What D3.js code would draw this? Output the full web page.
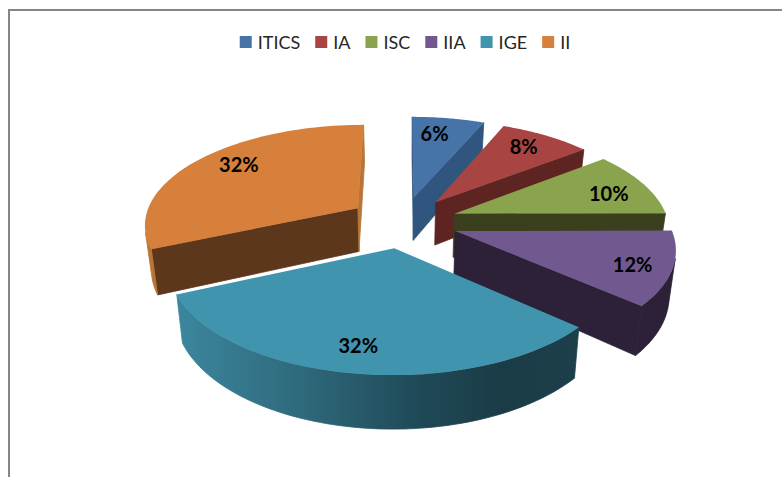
<!DOCTYPE html>
<html>
<head>
<meta charset="utf-8">
<script src="https://cdn.jsdelivr.net/npm/d3@7"></script>
<style>
  html, body { margin: 0; padding: 0; background: #fff; }
  svg { display: block; }
  text { font-family: Lato, "Open Sans", sans-serif; }
</style>
</head>
<body>
<svg id="chart" width="782" height="477"></svg>
<script>
  // they round to the printed labels
  const categories = ["ITICS", "IA", "ISC", "IIA", "IGE", "II"];
  const shares = [6.4, 8.1, 10.4, 11.6, 31.9, 31.6];

  const topColors = ["#4673a8", "#a84543", "#89a44c", "#71588e", "#4094ae", "#d6803c"];
  const sideColors = ["#30567f", "#5d2422", "#3a3f1d", "#2c2137", "#1c3f4b", "#5c371b"];
  const endColors = ["#30567f", "#5d2422", "#3a3f1d", "#2c2137", "#1c3f4b", "#b87535"];
  const labelFrac = [0.72, 0.74, 0.78, 0.86, 0.75, 0.68];
  const labelDx = [-5, 4, 6, -8, -6, -8];
  const labelDy = [-5, -5, 4, 2, 8, -10];

  const width = 782, height = 477;
  const svg = d3.select("#chart");

  // camera settings, fitted by eye against the picture
  const cx = 403, cy = 222;
  const radius = 214, explode = 55;
  const tilt = 0.465, persp = 1450, depth = 44, shrink = 0.025;

  const color = d3.scaleOrdinal().domain(categories).range(topColors);

  const pie = d3.pie().sort(null).value(function(d, i) { return shares[i]; });
  const arcs = pie(categories);

  function project(X, Y, bottom) {
    const s = 1 / (1 + Y / persp);
    let x = cx + X * s;
    let y = cy - tilt * Y * s;
    if (bottom) {
      x = cx + (x - cx) * (1 - shrink);
      y += depth * s;
    }
    return [x, y];
  }

  function slicePoint(d, frac, angle, bottom) {
    const mid = (d.startAngle + d.endAngle) / 2;
    const X = explode * Math.sin(mid) + radius * frac * Math.sin(angle);
    const Y = explode * Math.cos(mid) + radius * frac * Math.cos(angle);
    return project(X, Y, bottom);
  }

  const line = d3.line().curve(d3.curveLinearClosed);

  // the teal outer wall goes dark from left to right
  const tealGrad = svg.append("defs").append("linearGradient")
    .attr("id", "tealWall")
    .attr("gradientUnits", "userSpaceOnUse")
    .attr("x1", 174).attr("x2", 577)
    .attr("y1", 0).attr("y2", 0);
  tealGrad.selectAll("stop")
    .data([[0, "#3c879f"], [0.31, "#2f6a7c"], [0.61, "#1f4957"], [0.81, "#1a3c47"], [1, "#1c3f4b"]])
    .enter()
    .append("stop")
      .attr("offset", function(d) { return d[0]; })
      .attr("stop-color", function(d) { return d[1]; });

  // frame, only left and top are in the crop
  svg.append("path")
    .attr("d", "M9," + height + "V10H" + width)
    .attr("fill", "none")
    .attr("stroke", "#868686")
    .attr("stroke-width", 2);

  const pieG = svg.append("g");

  function drawFace(g, pts, fill) {
    // clockwise round the slice, so a positive area faces the camera
    if (d3.polygonArea(pts) <= 0) return;
    g.append("path")
      .attr("d", line(pts))
      .attr("fill", fill)
      .attr("stroke", fill)
      .attr("stroke-width", 0.8);
  }

  // back slices first, the big teal one last
  [0, 1, 2, 3, 5, 4].forEach(function(i) {
    const d = arcs[i];
    const g = pieG.append("g");
    const angles = d3.range(0, 61).map(function(k) {
      return d.startAngle + (d.endAngle - d.startAngle) * k / 60;
    });

    drawFace(g, [slicePoint(d, 0, 0), slicePoint(d, 1, d.startAngle),
      slicePoint(d, 1, d.startAngle, true), slicePoint(d, 0, 0, true)], sideColors[i]);
    drawFace(g, [slicePoint(d, 1, d.endAngle), slicePoint(d, 0, 0),
      slicePoint(d, 0, 0, true), slicePoint(d, 1, d.endAngle, true)], endColors[i]);

    // outer wall as one shape, only the steps that face the camera
    const wallAngles = angles.filter(function(a, k) {
      const next = angles[Math.min(k + 1, angles.length - 1)];
      const prev = angles[Math.max(k - 1, 0)];
      return d3.polygonArea([slicePoint(d, 1, prev), slicePoint(d, 1, next),
        slicePoint(d, 1, next, true), slicePoint(d, 1, prev, true)]) > 0;
    });
    if (wallAngles.length > 1) {
      const wall = wallAngles.map(function(a) { return slicePoint(d, 1, a); })
        .concat(wallAngles.slice().reverse().map(function(a) { return slicePoint(d, 1, a, true); }));
      drawFace(g, wall, i === 4 ? "url(#tealWall)" : endColors[i]);
    }

    const top = [slicePoint(d, 0, 0)].concat(angles.map(function(a) {
      return slicePoint(d, 1, a);
    }));
    g.append("path")
      .attr("d", line(top))
      .attr("fill", color(categories[i]));
  });

  // labels go over everything
  svg.append("g")
    .selectAll("text")
    .data(arcs)
    .enter()
    .append("text")
      .attr("transform", function(d, i) {
        const p = slicePoint(d, labelFrac[i], (d.startAngle + d.endAngle) / 2);
        return "translate(" + [p[0] + labelDx[i], p[1] + labelDy[i]] + ")";
      })
      .attr("text-anchor", "middle")
      .attr("dy", "0.35em")
      .attr("font-size", 20)
      .attr("font-weight", 700)
      .attr("fill", "#000")
      .text(function(d, i) { return d3.format(".0f")(shares[i]) + "%"; });

  // legend, centred by measuring the text
  const legend = svg.append("g");
  let legendX = 0;
  categories.forEach(function(name) {
    const item = legend.append("g").attr("transform", "translate(" + legendX + ",0)");
    item.append("rect")
      .attr("y", 36)
      .attr("width", 12)
      .attr("height", 12)
      .attr("fill", color(name));
    const label = item.append("text")
      .attr("x", 18)
      .attr("y", 49)
      .attr("font-size", 18)
      .attr("fill", "#262626")
      .text(name);
    legendX += 18 + label.node().getComputedTextLength() + 15;
  });
  legend.attr("transform", "translate(" + (240 + (330 - (legendX - 15)) / 2) + ",0)");
</script>
</body>
</html>
